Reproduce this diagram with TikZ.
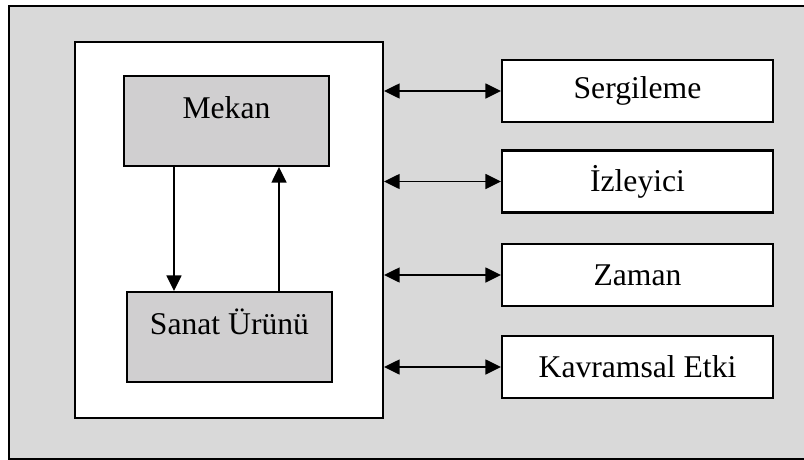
\documentclass[tikz,border=0pt]{standalone}
\usepackage{fontspec}
\setmainfont{Liberation Serif}
\usetikzlibrary{positioning,arrows.meta}
\definecolor{panel}{HTML}{D9D9D9}
\definecolor{boxgray}{HTML}{D0CFD0}
\tikzset{
  frame/.style={draw=black, line width=1.5pt},
  inbox/.style={frame, fill=boxgray, inner sep=0pt, minimum width=5.125cm,
    text height=1.05cm, text depth=1.2cm},
  outbox/.style={frame, fill=white, inner sep=0pt, minimum width=6.775cm,
    minimum height=1.55cm},
  link/.style={line width=1.4pt, -{Triangle[length=11pt,width=10.5pt]}},
  twolink/.style={line width=1.4pt, {Triangle[length=11pt,width=10.5pt]}-{Triangle[length=11pt,width=10.5pt]}}
}

\begin{document}
\begin{tikzpicture}[x=0.025cm, y=-0.025cm, font=\fontsize{22.5}{27}\selectfont]
  \useasboundingbox (0,0) rectangle (804,460);
  % Background panel
  \draw[frame, fill=panel] (9,6) rectangle (812,459);

  % Inner frame with the two boxes
  \node[frame, fill=white, minimum width=7.7cm, minimum height=9.4cm] (stage) at (229,230) {};
  \node[inbox] (mekan) at (226.5,121) {Mekan};
  \node[inbox] (sanat) at (229.5,337) {Sanat Ürünü};
  \draw[link] ([xshift=-1.3125cm]mekan.south) -- ([xshift=-1.3125cm]mekan.south |- sanat.north);
  \draw[link] ([xshift=1.3125cm]mekan.south |- sanat.north) -- ([xshift=1.3125cm]mekan.south);

  % Right-hand boxes
  \foreach \name/\txt/\y in {sergi/Sergileme/91, izle/İzleyici/181.5,
      zaman/Zaman/275, etki/Kavramsal Etki/367} {
    \node[outbox] (\name) at (637.5,\y) {\txt};
    \draw[twolink] (stage.east |- \name.west) -- (\name.west);
  }
\end{tikzpicture}
\end{document}
